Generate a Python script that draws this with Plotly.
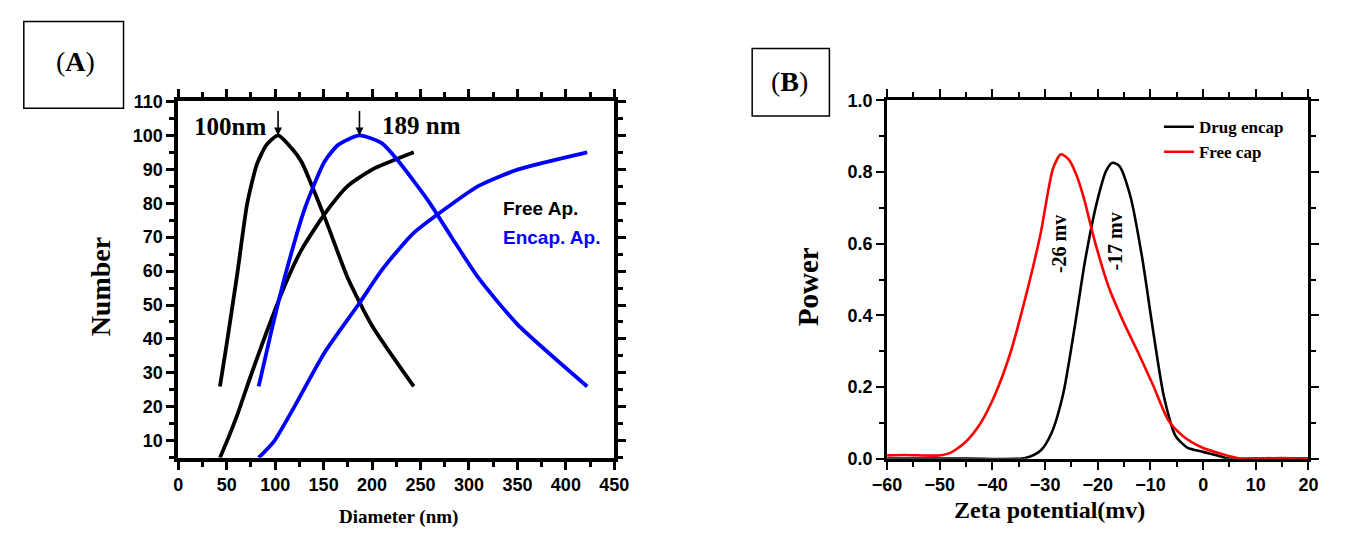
import plotly.graph_objects as go

W, H = 1345, 537

# ---------------- Panel A data ----------------
freeA_peak_x = [43, 50, 61, 71, 81, 91, 103, 117, 127, 151, 175, 200, 243]
freeA_peak_y = [26, 38.6, 59.4, 79.7, 91.4, 97.2, 100, 96.2, 92.3, 75.9, 57.9, 43.9, 26]

freeA_cum_x = [43, 51, 61, 75, 91, 111, 127, 151, 175, 200, 243]
freeA_cum_y = [5, 10.4, 17.7, 29.3, 41.9, 56.5, 66.2, 76.8, 85.1, 89.9, 95]

encA_peak_x = [83, 95, 111, 131, 151, 165, 187, 210, 226, 258, 282, 310, 350, 422]
encA_peak_y = [26, 41, 59.4, 78.8, 92.3, 97.2, 100, 97.7, 92.8, 80.7, 70, 57.9, 44.3, 26]

encA_cum_x = [83, 99, 119, 151, 187, 210, 242, 282, 310, 350, 422]
encA_cum_y = [5, 9.9, 19.6, 36, 50.6, 60.3, 71, 79.7, 85.1, 89.9, 95]

# ---------------- Panel B data ----------------
free_cap_x = [-60, -56.6, -50.2, -48, -45.2, -42.3, -39.5, -36.6, -33.8, -30.9, -28.5, -27.0,
              -25.5, -24.0, -22.5, -20.9, -18.0, -15.2, -12.3, -9.5, -6.6, -3.8, -0.2, 3.4, 7.0, 9.8, 14.8, 20]
free_cap_y = [0.009, 0.010, 0.009, 0.016, 0.045, 0.098, 0.179, 0.295, 0.446, 0.625, 0.81, 0.85,
              0.835, 0.79, 0.72, 0.625, 0.482, 0.384, 0.295, 0.205, 0.107, 0.0625, 0.031, 0.0134, 0.0, 0.0, 0.002, 0.0]

drug_encap_x = [-60, -45, -33.8, -30.9, -28.8, -26.6, -24.5, -22.4, -20.2, -18.4, -17.2, -15.9,
                -13.8, -11.6, -9.5, -7.4, -5.2, -3.0, -0.2, 2.7, 4.8, 10, 20]
drug_encap_y = [0, 0, 0.002, 0.022, 0.071, 0.179, 0.357, 0.554, 0.714, 0.804, 0.826, 0.817,
                0.732, 0.563, 0.357, 0.170, 0.0625, 0.031, 0.0196, 0.009, 0.0, 0.0, 0.0]

xA_ticks = list(range(0, 451, 50))
yA_ticks = list(range(10, 111, 10))
xB_ticks = list(range(-60, 21, 10))
yB_ticks = [0.0, 0.2, 0.4, 0.6, 0.8, 1.0]

fig = go.Figure()

lwA = 3.8
fig.add_trace(go.Scatter(x=freeA_peak_x, y=freeA_peak_y, mode="lines", line=dict(color="black", width=lwA, shape="spline", smoothing=0.6), showlegend=False, xaxis="x", yaxis="y"))
fig.add_trace(go.Scatter(x=freeA_cum_x, y=freeA_cum_y, mode="lines", line=dict(color="black", width=lwA, shape="spline", smoothing=0.6), showlegend=False, xaxis="x", yaxis="y"))
fig.add_trace(go.Scatter(x=encA_peak_x, y=encA_peak_y, mode="lines", line=dict(color="#0000FF", width=lwA, shape="spline", smoothing=0.6), showlegend=False, xaxis="x", yaxis="y"))
fig.add_trace(go.Scatter(x=encA_cum_x, y=encA_cum_y, mode="lines", line=dict(color="#0000FF", width=lwA, shape="spline", smoothing=0.6), showlegend=False, xaxis="x", yaxis="y"))

fig.add_trace(go.Scatter(x=drug_encap_x, y=drug_encap_y, mode="lines", name="Drug encap",
                         line=dict(color="black", width=2.6, shape="spline", smoothing=0.7), xaxis="x2", yaxis="y2"))
fig.add_trace(go.Scatter(x=free_cap_x, y=free_cap_y, mode="lines", name="Free cap",
                         line=dict(color="#FF0000", width=2.6, shape="spline", smoothing=0.7), xaxis="x2", yaxis="y2"))

tickfont = dict(family="Liberation Sans", size=18, color="black", weight="bold")

def ax(domain, rng, tickvals, minor_dtick, lw, anchor, tick0=None, fmt=None):
    d = dict(domain=domain, range=rng, tickvals=tickvals, showline=True, linewidth=lw, linecolor="black",
             mirror="ticks", ticks="outside", ticklen=8, tickwidth=lw * 0.8, tickcolor="black",
             showgrid=False, zeroline=False, tickfont=tickfont, anchor=anchor,
             minor=dict(dtick=minor_dtick, ticks="outside", ticklen=5, tickwidth=lw * 0.7, tickcolor="black", showgrid=False))
    if tick0 is not None:
        d["minor"]["tick0"] = tick0
    if fmt:
        d["tickformat"] = fmt
    return d

fig.update_layout(
    width=W, height=H, margin=dict(l=0, r=0, t=0, b=0),
    paper_bgcolor="white", plot_bgcolor="white",
    xaxis=ax([167 / W, 613 / W], [0, 450], xA_ticks, 25, 4, "y", 0),
    yaxis=ax([1 - 465 / H, 1 - 95 / H], [5, 110], yA_ticks, 5, 4, "x", 5),
    xaxis2=ax([892 / W, 1323 / W], [-60, 20], xB_ticks, 5, 3, "y2", -60),
    yaxis2=ax([1 - 466 / H, 1 - 94 / H], [0, 1], yB_ticks, 0.1, 3, "x2", 0, ".1f"),
    legend=dict(x=1170 / W, y=1 - 103 / H, xanchor="left", yanchor="top", bgcolor="rgba(0,0,0,0)",
                font=dict(family="Liberation Serif", size=17, color="black", weight="bold"),
                tracegroupgap=0, itemwidth=30),
    showlegend=True,
)

serif = "Liberation Serif"

def A(**kw):
    d = dict(showarrow=False, xanchor="center", yanchor="middle")
    d.update(kw)
    return d

ann = []
ann.append(A(x=62 / W, y=1 - 54 / H, xref="paper", yref="paper", text="(<b>A</b>)",
             font=dict(family=serif, size=28, color="black")))
ann.append(A(x=792 / W, y=1 - 74 / H, xref="paper", yref="paper", text="(<b>B</b>)",
             font=dict(family=serif, size=28, color="black")))
ann.append(A(x=87 / W, y=1 - 287 / H, xref="paper", yref="paper", text="<b>Number</b>", textangle=-90,
             font=dict(family=serif, size=28, color="black")))
ann.append(A(x=392 / W, y=1 - 527 / H, xref="paper", yref="paper", text="<b>Diameter (nm)</b>",
             font=dict(family=serif, size=19, color="black")))
ann.append(A(x=811 / W, y=1 - 287 / H, xref="paper", yref="paper", text="<b>Power</b>", textangle=-90,
             font=dict(family=serif, size=29, color="black")))
ann.append(A(x=1058 / W, y=1 - 519 / H, xref="paper", yref="paper", text="<b>Zeta potential(mv)</b>",
             font=dict(family=serif, size=24, color="black")))
ann.append(A(x=53, y=102.5, xref="x", yref="y", text="<b>100nm</b>",
             font=dict(family=serif, size=25, color="black")))
ann.append(A(x=251, y=103, xref="x", yref="y", text="<b>189 nm</b>",
             font=dict(family=serif, size=25, color="black")))
ann.append(dict(x=103, y=100, xref="x", yref="y", text="", showarrow=True, ax=0, ay=-26,
                arrowhead=2, arrowsize=1, arrowwidth=1.6, arrowcolor="black"))
ann.append(dict(x=187, y=100, xref="x", yref="y", text="", showarrow=True, ax=0, ay=-26,
                arrowhead=2, arrowsize=1, arrowwidth=1.6, arrowcolor="black"))
ann.append(A(x=333, y=78.5, xref="x", yref="y", text="<b>Free Ap.</b>", xanchor="left",
             font=dict(family="Liberation Sans", size=19, color="black")))
ann.append(A(x=333, y=70.0, xref="x", yref="y", text="<b>Encap. Ap.</b>", xanchor="left",
             font=dict(family="Liberation Sans", size=19, color="#0000FF")))
ann.append(A(x=-27.5, y=0.60, xref="x2", yref="y2", text="<b>-26 mv</b>", textangle=-90,
             font=dict(family=serif, size=20, color="black")))
ann.append(A(x=-16.8, y=0.605, xref="x2", yref="y2", text="<b>-17 mv</b>", textangle=-90,
             font=dict(family=serif, size=20, color="black")))
fig.update_layout(annotations=ann)

fig.update_layout(shapes=[
    dict(type="rect", xref="paper", yref="paper", x0=9 / W, x1=111 / W, y0=1 - 102 / H, y1=1 - 12 / H,
         line=dict(color="black", width=1.5)),
    dict(type="rect", xref="paper", yref="paper", x0=754 / W, x1=833 / W, y0=1 - 110 / H, y1=1 - 40 / H,
         line=dict(color="black", width=1.5)),
])

fig.write_html("out.html", post_script="document.body.style.margin='0';document.body.style.overflow='hidden';")
